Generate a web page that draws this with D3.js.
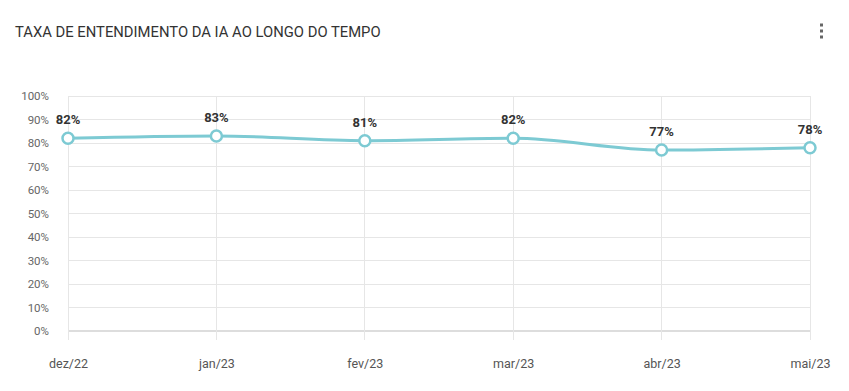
<!DOCTYPE html>
<html><head><meta charset="utf-8">
<script src="https://cdn.jsdelivr.net/npm/d3@7"></script>
<style>body{margin:0;background:#fff;font-family:Roboto,"Open Sans",sans-serif;}</style>
</head><body><svg id="c" width="849" height="391"></svg>
<script>
const categories = ["dez/22","jan/23","fev/23","mar/23","abr/23","mai/23"];
const values = [82,83,81,82,77,78];
const yTicks = [0,10,20,30,40,50,60,70,80,90,100];
const title = "TAXA DE ENTENDIMENTO DA IA AO LONGO DO TEMPO";

(function(){
const svg = d3.select("#c");
const pl = 68, pr = 810, pt = 96, pb = 331;
const x = d3.scalePoint().domain(categories).range([pl, pr]);
const y = d3.scaleLinear().domain([0,100]).range([pb, pt]);

svg.append("text").attr("x",15).attr("y",37).text(title)
  .attr("font-size",14.8).attr("fill","#333").attr("font-family","Roboto, sans-serif");
[25,31,37].forEach(cy=>svg.append("rect").attr("x",820).attr("y",cy-1.5).attr("width",3).attr("height",3).attr("fill","#666"));

const g = svg.append("g");
g.selectAll("line.h").data(yTicks).join("line")
  .attr("x1",pl).attr("x2",pr).attr("y1",d=>y(d)).attr("y2",d=>y(d))
  .attr("stroke",d=>d===0?"#ddd":"#e6e6e6").attr("stroke-width",d=>d===0?2:1).attr("shape-rendering","crispEdges");
g.selectAll("line.v").data(categories).join("line")
  .attr("x1",d=>x(d)).attr("x2",d=>x(d)).attr("y1",pt).attr("y2",pb+9)
  .attr("stroke","#e6e6e6").attr("shape-rendering","crispEdges");

const yAxis = d3.axisLeft(y).tickValues(yTicks).tickFormat(d=>d+"%").tickSize(0).tickPadding(0);
const ya = svg.append("g").attr("transform",`translate(49,0)`).call(yAxis);
ya.select(".domain").remove();
ya.selectAll("text").attr("font-size",11.5).attr("fill","#666").attr("font-family","Roboto, sans-serif");

const xAxis = d3.axisBottom(x).tickSize(0).tickPadding(0);
const xa = svg.append("g").attr("transform",`translate(0,359)`).call(xAxis);
xa.select(".domain").remove();
xa.selectAll("text").attr("font-size",12.5).attr("fill","#555").attr("font-family","Roboto, sans-serif");

const color = "#7dcad3";
const line = d3.line().x((d,i)=>x(categories[i])).y(d=>y(d)).curve(d3.curveMonotoneX);
svg.append("path").datum(values).attr("d",line).attr("fill","none").attr("stroke",color).attr("stroke-width",3);
svg.selectAll("circle.p").data(values).join("circle")
  .attr("cx",(d,i)=>x(categories[i])).attr("cy",d=>y(d)).attr("r",5.5)
  .attr("fill","#fff").attr("stroke",color).attr("stroke-width",2.5);
svg.selectAll("text.lbl").data(values).join("text")
  .attr("x",(d,i)=>x(categories[i])).attr("y",d=>y(d)-14)
  .attr("text-anchor","middle").attr("font-size",13).attr("font-weight","bold").attr("fill","#333")
  .attr("font-family","Roboto, sans-serif").text(d=>d+"%");
})();
</script></body></html>
